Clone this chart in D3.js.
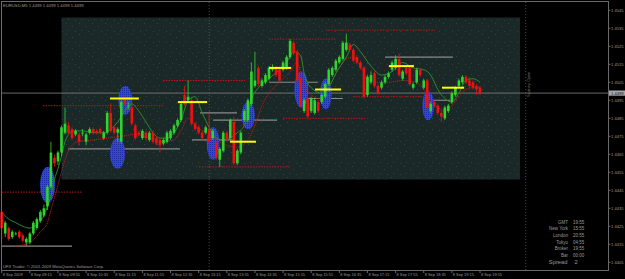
<!DOCTYPE html>
<html><head><meta charset="utf-8">
<script src="https://cdn.jsdelivr.net/npm/d3@7"></script>
<style>html,body{margin:0;padding:0;background:#000;overflow:hidden}svg{display:block}</style>
</head><body>
<svg id="c" width="625" height="279"></svg>
<script>
// ---------- data ----------
const symbolTitle = "EURUSD,M5  1.4499 1.4499 1.4499 1.4499";
const copyright = "UFX Trader, \u00A9 2001-2009 MetaQuotes Software Corp.";
const timeLabels = ["8 Sep 2009","8 Sep 09:15","8 Sep 09:55","8 Sep 10:35","8 Sep 11:15","8 Sep 11:55","8 Sep 12:35","8 Sep 13:15","8 Sep 13:55","8 Sep 14:35","8 Sep 15:15","8 Sep 15:55","8 Sep 16:35","8 Sep 17:15","8 Sep 17:55","8 Sep 18:35","8 Sep 19:15","8 Sep 19:55"];
const priceTicks = [1.4545,1.4535,1.4525,1.4515,1.4505,1.4495,1.4485,1.4475,1.4465,1.4455,1.4445,1.4435,1.4425,1.4415,1.4405];

const open = [1.4433,1.4421,1.4424,1.4419,1.4421,1.4422,1.4420,1.4416,1.4416,1.4421,
1.4424,1.4428,1.4431,1.4436,1.4447,1.4463,1.4461,1.4466,1.4477,1.4481,
1.4479,1.4476,1.4476,1.4477,1.4472,1.4477,1.4479,1.4478,1.4479,1.4474,
1.4477,1.4488,1.4480,1.4477,1.4472,1.4496,1.4492,1.4491,1.4481,1.4477,
1.4474,1.4477,1.4473,1.4477,1.4474,1.4473,1.4471,1.4472,1.4474,1.4477,
1.4481,1.4484,1.4498,1.4495,1.4495,1.4482,1.4480,1.4477,1.4477,1.4479,
1.4474,1.4471,1.4462,1.4467,1.4477,1.4474,1.4483,1.4460,1.4466,1.4484,
1.4484,1.4493,1.4503,1.4513,1.4503,1.4505,1.4507,1.4512,1.4513,1.4512,
1.4512,1.4513,1.4519,1.4527,1.4522,1.4507,1.4489,1.4496,1.4489,1.4488,
1.4494,1.4494,1.4497,1.4504,1.4509,1.4512,1.4516,1.4518,1.4523,1.4526,
1.4523,1.4519,1.4516,1.4513,1.4498,1.4505,1.4510,1.4503,1.4502,1.4505,
1.4508,1.4512,1.4513,1.4518,1.4507,1.4513,1.4513,1.4502,1.4505,1.4512,
1.4502,1.4506,1.4489,1.4494,1.4492,1.4488,1.4485,1.4489,1.4494,1.4498,
1.4503,1.4505,1.4508,1.4506,1.4505,1.4503,1.4502];
const high = [1.4434,1.4428,1.4425,1.4423,1.4422,1.4423,1.4421,1.4419,1.4422,1.4428,
1.4430,1.4434,1.4437,1.4448,1.4472,1.4465,1.4467,1.4481,1.4491,1.4483,
1.4480,1.4479,1.4477,1.4479,1.4477,1.4480,1.4480,1.4479,1.4480,1.4478,
1.4489,1.4493,1.4481,1.4480,1.4495,1.4497,1.4494,1.4494,1.4482,1.4478,
1.4479,1.4478,1.4478,1.4478,1.4475,1.4474,1.4474,1.4478,1.4479,1.4482,
1.4485,1.4494,1.4503,1.4506,1.4497,1.4483,1.4481,1.4478,1.4481,1.4488,
1.4479,1.4472,1.4469,1.4478,1.4478,1.4485,1.4486,1.4468,1.4478,1.4490,
1.4496,1.4516,1.4522,1.4514,1.4507,1.4510,1.4514,1.4515,1.4514,1.4513,
1.4517,1.4520,1.4529,1.4528,1.4523,1.4508,1.4496,1.4497,1.4497,1.4496,
1.4495,1.4499,1.4505,1.4513,1.4514,1.4518,1.4520,1.4528,1.4532,1.4527,
1.4524,1.4520,1.4517,1.4514,1.4509,1.4511,1.4511,1.4504,1.4506,1.4509,
1.4511,1.4517,1.4520,1.4521,1.4512,1.4514,1.4514,1.4505,1.4513,1.4513,
1.4507,1.4507,1.4494,1.4495,1.4493,1.4489,1.4492,1.4493,1.4500,1.4503,
1.4507,1.4509,1.4509,1.4508,1.4506,1.4504,1.4503];
const low = [1.4418,1.4419,1.4417,1.4418,1.4420,1.4418,1.4416,1.4414,1.4415,1.4420,
1.4423,1.4427,1.4430,1.4434,1.4446,1.4458,1.4459,1.4464,1.4476,1.4476,
1.4473,1.4475,1.4470,1.4475,1.4470,1.4476,1.4476,1.4476,1.4476,1.4473,
1.4476,1.4477,1.4476,1.4472,1.4471,1.4492,1.4490,1.4481,1.4473,1.4475,
1.4473,1.4473,1.4472,1.4471,1.4470,1.4466,1.4470,1.4471,1.4473,1.4476,
1.4480,1.4483,1.4492,1.4494,1.4481,1.4478,1.4476,1.4473,1.4476,1.4471,
1.4473,1.4462,1.4458,1.4466,1.4472,1.4473,1.4459,1.4459,1.4465,1.4483,
1.4483,1.4492,1.4502,1.4503,1.4502,1.4504,1.4506,1.4511,1.4508,1.4505,
1.4511,1.4512,1.4518,1.4520,1.4505,1.4491,1.4488,1.4485,1.4488,1.4487,
1.4488,1.4493,1.4496,1.4503,1.4508,1.4511,1.4515,1.4517,1.4522,1.4522,
1.4516,1.4515,1.4512,1.4496,1.4497,1.4504,1.4502,1.4498,1.4501,1.4504,
1.4507,1.4511,1.4512,1.4508,1.4506,1.4509,1.4503,1.4501,1.4504,1.4508,
1.4501,1.4490,1.4488,1.4491,1.4487,1.4483,1.4484,1.4488,1.4493,1.4497,
1.4502,1.4504,1.4504,1.4502,1.4501,1.4498,1.4498];
const close = [1.4424,1.4427,1.4418,1.4422,1.4421,1.4419,1.4417,1.4418,1.4421,1.4427,
1.4429,1.4433,1.4435,1.4447,1.4466,1.4460,1.4466,1.4480,1.4482,1.4477,
1.4474,1.4478,1.4472,1.4477,1.4476,1.4479,1.4477,1.4477,1.4477,1.4477,
1.4488,1.4478,1.4477,1.4479,1.4494,1.4493,1.4492,1.4482,1.4474,1.4476,
1.4478,1.4474,1.4477,1.4472,1.4471,1.4470,1.4473,1.4477,1.4478,1.4481,
1.4484,1.4493,1.4493,1.4497,1.4482,1.4479,1.4477,1.4474,1.4480,1.4472,
1.4478,1.4463,1.4468,1.4477,1.4473,1.4484,1.4460,1.4467,1.4477,1.4489,
1.4495,1.4511,1.4506,1.4504,1.4506,1.4509,1.4513,1.4513,1.4509,1.4506,
1.4516,1.4519,1.4528,1.4521,1.4506,1.4492,1.4495,1.4486,1.4496,1.4495,
1.4489,1.4498,1.4504,1.4512,1.4513,1.4517,1.4519,1.4527,1.4527,1.4523,
1.4517,1.4516,1.4513,1.4497,1.4508,1.4509,1.4503,1.4499,1.4505,1.4508,
1.4510,1.4516,1.4518,1.4509,1.4511,1.4510,1.4504,1.4504,1.4512,1.4509,
1.4506,1.4491,1.4493,1.4492,1.4488,1.4486,1.4491,1.4492,1.4499,1.4502,
1.4506,1.4508,1.4505,1.4503,1.4502,1.4501,1.4499];

const greenMaBar = [0,2,4,6,8,10,12,13,14,15,16,17,18,19,20,23,26,29,31,33,35,37,39,41,43,45,47,49,51,53,55,57,59,61,63,65,67,69,70,71,73,76,79,81,83,85,86,88,91,93,95,98,100,102,105,108,111,114,117,120,122,124,126,128,130,132,134,136];
const greenMaVal = [1.4433,1.4429,1.4427,1.4425,1.4424,1.4426,1.4431,1.4436,1.4442,1.4451,1.4457,1.4464,1.4472,1.4476,1.4478,1.4478,1.4477,1.4477,1.4479,1.4483,1.4489,1.4493,1.4489,1.4483,1.4477,1.4474,1.4474,1.4477,1.4484,1.4495,1.4497,1.4488,1.4480,1.4474,1.4473,1.4474,1.4477,1.4481,1.4486,1.4495,1.4502,1.4507,1.4512,1.4516,1.4522,1.4520,1.4510,1.4502,1.4499,1.4502,1.4510,1.4519,1.4526,1.4522,1.4514,1.4509,1.4511,1.4516,1.4513,1.4512,1.4509,1.4501,1.4496,1.4494,1.4499,1.4506,1.4507,1.4505];
const redMaBar = [4,8,11,13,14,15,16,17,18,19,20,22,26,30,34,38,42,46,49,51,53,55,58,61,64,67,70,72,74,76,79,82,84,86,88,90,92,94,96,98,100,102,104,106,110,114,118,120,122,124,126,128,130,132,134,136];
const redMaVal = [1.4414,1.4416,1.4422,1.4427,1.4434,1.4441,1.4448,1.4455,1.4462,1.4467,1.4470,1.4472,1.4473,1.4474,1.4475,1.4476,1.4474,1.4472,1.4473,1.4478,1.4485,1.4481,1.4477,1.4473,1.4470,1.4469,1.4473,1.4481,1.4492,1.4499,1.4505,1.4511,1.4516,1.4503,1.4498,1.4496,1.4499,1.4506,1.4513,1.4518,1.4519,1.4514,1.4507,1.4505,1.4505,1.4506,1.4505,1.4501,1.4494,1.4491,1.4489,1.4492,1.4497,1.4501,1.4502,1.4502];

// drawn objects: [fromBar, toBar, price]
const redLevels = [[0,22.8,1.4444],[11.7,45.9,1.4492],[45.9,69.2,1.4506],[76,95,1.4529],[92.2,123.2,1.4534],[56.1,82,1.4458],[80,103.3,1.4485],[99.9,121.8,1.4497]];
const grayLevels = [[18.9,50.7,1.4468],[0,20,1.4414],[54.1,65.8,1.4473],[56.4,66.9,1.4488],[60.1,78.3,1.4484],[76,89.9,1.4505],[86.2,97,1.4496],[109,128.3,1.4519],[121.8,127.5,1.4495]];
const yellowLevels = [[30.8,39,1.4496],[50.1,58.4,1.4494],[64.9,72.3,1.4472],[76,82.3,1.4513],[89.1,96.5,1.4501],[110.1,117.2,1.4514],[125.2,131.5,1.4502]];
// ellipses: [fromBar, toBar, topPrice, bottomPrice]
const ellipses = [[10.9,15.2,1.4458,1.4438],[30.8,35.1,1.4474,1.4457],[33.15,37.1,1.4503,1.4487],[58.3,61.9,1.4480,1.4462],[68.2,72.0,1.4494,1.4479],[83.2,87.2,1.4511,1.4491],[90.5,93.8,1.4507,1.4490],[119.6,122.9,1.4500,1.4484]];
const zone = [17, 147.4, 1.4541, 1.4451];
const bidPrice = 1.4499;
const sessionBars = [59, 149];
const sessionText = "Sydney Open";
const infoLabels = ["GMT","New York","London","Tokyo","Broker","Bar"];
const infoValues = ["19:55","15:55","20:55","04:55","19:55","00:00"];
const spreadValue = "2";

// ---------- drawing ----------
const svg = d3.select("#c");
const W = 625, H = 279;
const x = d3.scaleLinear().domain([0, 136]).range([1.7, 480]);
const y = d3.scaleLinear().domain([1.4405, 1.4545]).range([262.3, 10.3]);
const font = "'Liberation Sans', Arial, sans-serif";

svg.append("rect").attr("width", W).attr("height", H).attr("fill", "#000");

const defs = svg.append("defs");
const zp = defs.append("pattern").attr("id","zoneDots").attr("width",13).attr("height",11).attr("patternUnits","userSpaceOnUse");
zp.append("rect").attr("width",13).attr("height",11).attr("fill","#1a2927");
[[1,1,"#34424e"],[7,4,"#3e3434"],[3,8,"#30443f"],[10,9,"#383c4c"]].forEach(d=>{
  zp.append("rect").attr("x",d[0]).attr("y",d[1]).attr("width",1).attr("height",1).attr("fill",d[2]);
});
const ep = defs.append("pattern").attr("id","ellDots").attr("width",2).attr("height",2).attr("patternUnits","userSpaceOnUse");
ep.append("rect").attr("width",2).attr("height",2).attr("fill","#3142ff");
ep.append("rect").attr("width",1).attr("height",1).attr("fill","#1d2aa8");

// zone rectangle
svg.append("rect")
  .attr("x", x(zone[0])).attr("y", y(zone[2]))
  .attr("width", x(zone[1]) - x(zone[0])).attr("height", y(zone[3]) - y(zone[2]))
  .attr("fill", "url(#zoneDots)");

// session vertical dotted lines
sessionBars.forEach(b => {
  svg.append("line").attr("x1", x(b)).attr("x2", x(b)).attr("y1", 2).attr("y2", 270)
    .attr("stroke", "#5a5a5a").attr("stroke-width", 0.8).attr("stroke-dasharray", "1,2");
});
svg.append("text").attr("transform", `translate(${x(sessionBars[1]) + 4.5},97) rotate(-90)`)
  .attr("font-family", font).attr("font-size", 4.2).attr("fill", "#777").text(sessionText);

// bid line
svg.append("line").attr("x1", 2).attr("x2", 608).attr("y1", y(bidPrice)).attr("y2", y(bidPrice))
  .attr("stroke", "#777").attr("stroke-width", 0.9);

// gray levels
svg.selectAll(".gl").data(grayLevels).enter().append("line")
  .attr("x1", d => x(d[0])).attr("x2", d => x(d[1]))
  .attr("y1", d => y(d[2])).attr("y2", d => y(d[2]))
  .attr("stroke", "#8a8a8a").attr("stroke-width", 1.1);

// red dotted levels
svg.selectAll(".rl").data(redLevels).enter().append("line")
  .attr("x1", d => x(d[0])).attr("x2", d => x(d[1]))
  .attr("y1", d => y(d[2])).attr("y2", d => y(d[2]))
  .attr("stroke", "#c01414").attr("stroke-width", 1).attr("stroke-dasharray", "1.5,1.2");

// ellipses
svg.selectAll(".el").data(ellipses).enter().append("ellipse")
  .attr("cx", d => (x(d[0]) + x(d[1])) / 2).attr("cy", d => (y(d[2]) + y(d[3])) / 2)
  .attr("rx", d => (x(d[1]) - x(d[0])) / 2).attr("ry", d => (y(d[3]) - y(d[2])) / 2)
  .attr("fill", "url(#ellDots)");

// moving averages
const redLine = d3.line().x((d,i) => x(redMaBar[i])).y(d => y(d)).curve(d3.curveMonotoneX);
svg.append("path").attr("d", redLine(redMaVal)).attr("fill", "none")
  .attr("stroke", "#c01818").attr("stroke-width", 1).attr("stroke-dasharray", "1.2,0.8");
const greenLine = d3.line().x((d,i) => x(greenMaBar[i])).y(d => y(d)).curve(d3.curveMonotoneX);
svg.append("path").attr("d", greenLine(greenMaVal)).attr("fill", "none")
  .attr("stroke", "#2c8a2c").attr("stroke-width", 1);

// candles
const bars = open.map((o, i) => ({i, o, h: high[i], l: low[i], c: close[i]}));
const col = d => d.c >= d.o ? "#2fd52f" : "#f01010";
const cg = svg.append("g");
cg.selectAll(".wk").data(bars).enter().append("line")
  .attr("x1", d => x(d.i)).attr("x2", d => x(d.i))
  .attr("y1", d => y(d.h)).attr("y2", d => y(d.l))
  .attr("stroke", col).attr("stroke-width", 0.8);
cg.selectAll(".bd").data(bars).enter().append("rect")
  .attr("x", d => x(d.i) - 1.3).attr("width", 2.6)
  .attr("y", d => y(Math.max(d.o, d.c)))
  .attr("height", d => Math.max(0.8, Math.abs(y(d.o) - y(d.c))))
  .attr("fill", col);

// yellow levels
svg.selectAll(".yl").data(yellowLevels).enter().append("line")
  .attr("x1", d => x(d[0])).attr("x2", d => x(d[1]))
  .attr("y1", d => y(d[2])).attr("y2", d => y(d[2]))
  .attr("stroke", "#ffff00").attr("stroke-width", 2);

// frame
svg.append("rect").attr("x", 1.5).attr("y", 1.5).attr("width", 607).attr("height", 269)
  .attr("fill", "none").attr("stroke", "#6a6a6a").attr("stroke-width", 1);

// price axis
const pa = svg.append("g");
priceTicks.forEach(p => {
  pa.append("line").attr("x1", 608).attr("x2", 610.5).attr("y1", y(p)).attr("y2", y(p)).attr("stroke", "#6a6a6a");
  pa.append("text").attr("x", 611).attr("y", y(p) + 1.4).attr("font-family", font)
    .attr("font-size", 4.1).attr("fill", "#9a9a9a").text(d3.format(".4f")(p));
});
pa.append("rect").attr("x", 609).attr("y", y(bidPrice) - 2.6).attr("width", 16).attr("height", 5.2).attr("fill", "#a8a8a8");
pa.append("text").attr("x", 611).attr("y", y(bidPrice) + 1.4).attr("font-family", font)
  .attr("font-size", 4.1).attr("fill", "#111").text(d3.format(".4f")(bidPrice));

// time axis
timeLabels.forEach((t, k) => {
  const xi = x(k * 8);
  svg.append("line").attr("x1", xi).attr("x2", xi).attr("y1", 270).attr("y2", 273).attr("stroke", "#6a6a6a");
  svg.append("text").attr("x", xi + 1).attr("y", 276.3).attr("font-family", font)
    .attr("font-size", 3.9).attr("fill", "#9a9a9a").text(t);
});

// header & copyright
svg.append("text").attr("x", 3).attr("y", 6.5).attr("font-family", font).attr("font-size", 4.2)
  .attr("fill", "#9a9a9a").text(symbolTitle);
svg.append("text").attr("x", 3).attr("y", 268).attr("font-family", font).attr("font-size", 4.2)
  .attr("fill", "#9a9a9a").text(copyright);

// info block
infoLabels.forEach((l, k) => {
  const yy = 223.8 + k * 6.6;
  svg.append("text").attr("x", 568).attr("y", yy).attr("text-anchor", "end").attr("font-family", font)
    .attr("font-size", 4.5).attr("fill", "#9a9a9a").text(l);
  svg.append("text").attr("x", 573).attr("y", yy).attr("font-family", font)
    .attr("font-size", 4.5).attr("fill", "#9a9a9a").text(infoValues[k]);
});
svg.append("text").attr("x", 567.5).attr("y", 263.8).attr("text-anchor", "end").attr("font-family", font)
  .attr("font-size", 5.8).attr("fill", "#9a9a9a").text("Spread");
svg.append("text").attr("x", 574.5).attr("y", 263.8).attr("font-family", font)
  .attr("font-size", 5.8).attr("fill", "#9a9a9a").text(spreadValue);
</script>
</body></html>
